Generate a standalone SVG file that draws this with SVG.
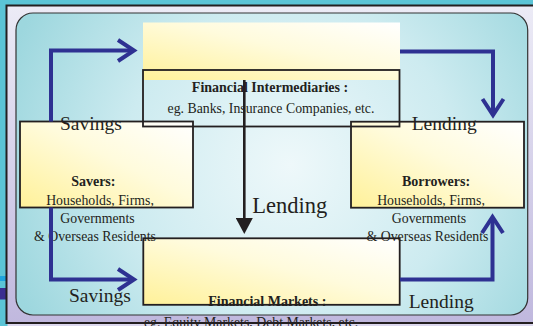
<svg xmlns="http://www.w3.org/2000/svg" width="533" height="326" viewBox="0 0 533 326">
  <defs>
    <linearGradient id="frameGrad" x1="0" y1="0" x2="0" y2="1">
      <stop offset="0" stop-color="#ecebf6"/>
      <stop offset="1" stop-color="#c0b8de"/>
    </linearGradient>
    <radialGradient id="panelGrad" cx="290" cy="165" r="300" gradientUnits="userSpaceOnUse">
      <stop offset="0" stop-color="#eef8fa"/>
      <stop offset="0.55" stop-color="#cdebf0"/>
      <stop offset="1" stop-color="#9dd7de"/>
    </radialGradient>
    <linearGradient id="yellowGrad" x1="0" y1="1" x2="1" y2="0">
      <stop offset="0" stop-color="#fff199"/>
      <stop offset="0.55" stop-color="#fffbdc"/>
      <stop offset="1" stop-color="#ffffff"/>
    </linearGradient>
    <marker id="chevron" viewBox="-4 -4 26 33" refX="16" refY="12.5" markerWidth="26" markerHeight="33" markerUnits="userSpaceOnUse" orient="auto" overflow="visible">
      <path d="M0,2 L16,12.5 L0,23" fill="none" stroke="#2e3192" stroke-width="4"/>
    </marker>
    <marker id="tri" viewBox="0 0 16 17" refX="1" refY="8.5" markerWidth="16" markerHeight="17" markerUnits="userSpaceOnUse" orient="auto">
      <path d="M0,0 L16,8.5 L0,17 Z" fill="#231f20"/>
    </marker>
  </defs>
  <style>
    .box { stroke: #231f20; stroke-width: 1.8; }
    .t { font-family: "Liberation Serif", "Times New Roman", serif; fill: #231f20; }
    .b { font-weight: bold; font-size: 14px; }
    .r { font-size: 13.8px; }
    .lbl { font-size: 19.5px; }
    .blue { fill: none; stroke: #2e3192; stroke-width: 4; marker-end: url(#chevron); }
  </style>

  <!-- background / frame -->
  <rect x="0" y="0" width="533" height="326" fill="#5bc4d6"/>
  <rect x="0" y="276" width="7" height="5" fill="#1ea4de"/>
  <rect x="0" y="288" width="7" height="11.5" fill="#3a2e90"/>
  <rect x="6.5" y="5.5" width="540" height="317.5" fill="url(#frameGrad)" stroke="#231f20" stroke-width="2"/>
  <rect x="7.5" y="324" width="526" height="2" fill="#dcd8ee"/>
  <rect x="16" y="13" width="511.7" height="302" rx="17" ry="17" fill="url(#panelGrad)" stroke="#333" stroke-width="1.2"/>

  <g id="financial-markets">
    <rect class="box" x="143.3" y="238.3" width="256.4" height="66.5" fill="url(#yellowGrad)"/>
    <text class="t b" x="267.3" y="305.5" text-anchor="middle">Financial Markets :</text>
    <text class="t r" x="251" y="327" text-anchor="middle">eg. Equity Markets, Debt Markets, etc.</text>
  </g>

  <g id="savers">
    <rect class="box" x="20" y="121.5" width="173" height="86" fill="url(#yellowGrad)"/>
    <text class="t b" x="93.3" y="186" text-anchor="middle">Savers:</text>
    <text class="t r" x="100" y="205" text-anchor="middle">Households, Firms,</text>
    <text class="t r" x="97.5" y="223" text-anchor="middle">Governments</text>
    <text class="t r" x="95" y="241" text-anchor="middle">&amp; Overseas Residents</text>
  </g>

  <g id="borrowers">
    <rect class="box" x="351" y="121.7" width="173" height="86" fill="url(#yellowGrad)"/>
    <text class="t b" x="436" y="186" text-anchor="middle">Borrowers:</text>
    <text class="t r" x="431" y="205" text-anchor="middle">Households, Firms,</text>
    <text class="t r" x="429" y="223" text-anchor="middle">Governments</text>
    <text class="t r" x="427.5" y="241" text-anchor="middle">&amp; Overseas Residents</text>
  </g>

  <g id="financial-intermediaries">
    <rect x="143" y="22.5" width="257" height="57.5" fill="url(#yellowGrad)"/>
    <rect class="box" x="143" y="70" width="256.5" height="56.5" fill="none"/>
    <text class="t b" x="270" y="92" text-anchor="middle">Financial Intermediaries :</text>
    <text class="t r" x="271" y="112.5" text-anchor="middle">eg. Banks, Insurance Companies, etc.</text>
  </g>

  <g id="connectors">
    <path class="blue" d="M51,121.5 V50.5 H134"/>
    <path class="blue" d="M51,207.5 V279.5 H134"/>
    <path class="blue" d="M400,51.5 H493 V115"/>
    <path class="blue" d="M400,279.5 H492.5 V217"/>
    <path d="M244.3,80 V219" fill="none" stroke="#231f20" stroke-width="2.6" marker-end="url(#tri)"/>
    <text class="t lbl" x="60" y="130">Savings</text>
    <text class="t lbl" x="411.7" y="130">Lending</text>
    <text class="t lbl" x="69" y="301.7">Savings</text>
    <text class="t lbl" x="408.7" y="308.3">Lending</text>
    <text class="t" x="252.3" y="213.3" font-size="22.5">Lending</text>
  </g>
</svg>
